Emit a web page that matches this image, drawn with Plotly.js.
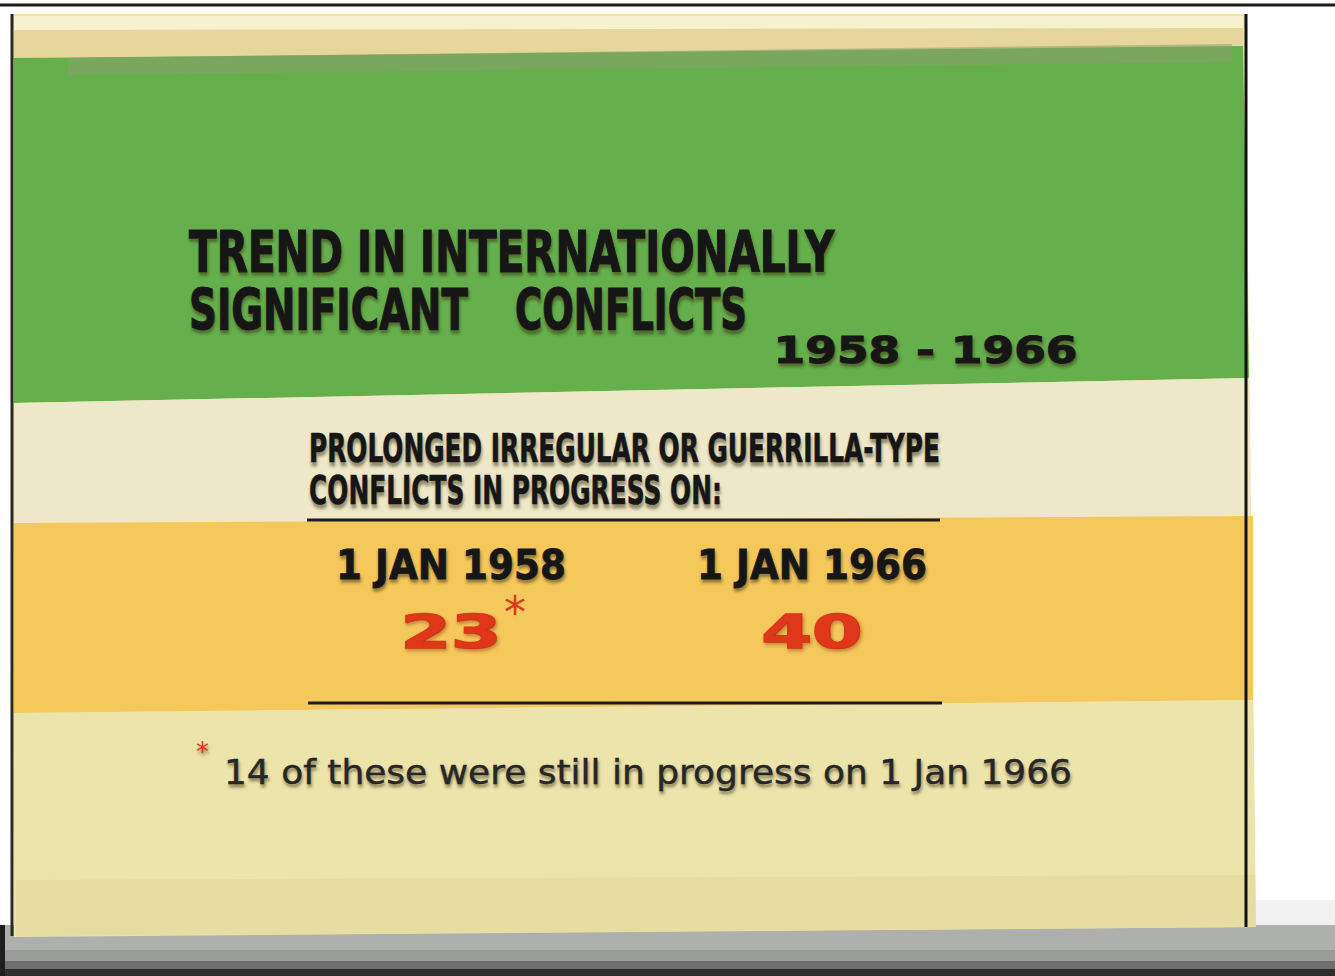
<!DOCTYPE html>
<html>
<head>
<meta charset="utf-8">
<script src="https://cdn.plot.ly/plotly-3.0.1.min.js"></script>
<style>
  html, body { margin: 0; padding: 0; background: #ffffff; }
  #chart { width: 1335px; height: 976px; }
</style>
</head>
<body>
<div id="chart"></div>
<script>
// ---------- DATA ----------
const titleLine1 = "TREND IN INTERNATIONALLY";
const titleLine2a = "SIGNIFICANT";
const titleLine2b = "CONFLICTS";
const periodLabel = "1958 - 1966";
const subtitleLines = ["PROLONGED IRREGULAR OR GUERRILLA-TYPE", "CONFLICTS IN PROGRESS ON:"];
const dateLabels = ["1 JAN 1958", "1 JAN 1966"];
const conflictCounts = [23, 40];
const countMarks = ["*", ""];
const stillInProgress = 14;
const footnoteText = stillInProgress + " of these were still in progress on 1 Jan 1966";

// ---------- HELPERS (pixel -> paper) ----------
const W = 1335, H = 976;
const px = x => x / W;
const py = y => 1 - y / H;
function rect(x0, y0, x1, y1, fill) {
  return {type: 'rect', xref: 'paper', yref: 'paper',
    x0: px(x0), x1: px(x1), y0: py(y1), y1: py(y0),
    fillcolor: fill, line: {width: 0}, layer: 'below'};
}
function poly(pts, fill) {
  const d = pts.map((p, i) => (i ? 'L ' : 'M ') + px(p[0]).toFixed(5) + ' ' + py(p[1]).toFixed(5)).join(' ') + ' Z';
  return {type: 'path', xref: 'paper', yref: 'paper', path: d,
    fillcolor: fill, line: {width: 0}, layer: 'below'};
}
function seg(x0, y0, x1, y1, color, w) {
  return {type: 'line', xref: 'paper', yref: 'paper', x0: px(x0), x1: px(x1),
    y0: py(y0), y1: py(y1), line: {color: color, width: w}, layer: 'above'};
}

const shapes = [
  seg(0, 5, 1335, 5, '#1a1a1a', 3),
  // shadow under the board
  rect(1256, 900, 1335, 930, '#f1f1f1'),
  rect(0, 925, 1335, 976, '#aeb0ae'),
  rect(0, 950, 1335, 976, '#9a9c9a'),
  rect(0, 961, 1335, 976, '#6e6e6e'),
  rect(0, 969, 1335, 976, '#2e2e2e'),
  rect(0, 925, 5, 976, '#1e1e1e'),
  // board base
  poly([[12, 14], [1245, 14], [1256, 927], [14, 937]], '#ece3ab'),
  poly([[14, 16], [1243, 16], [1243, 30], [14, 30]], '#f6f1cf'),
  poly([[14, 30], [1243, 28], [1243, 46], [14, 58]], '#e6d69b'),
  // green panel
  poly([[14, 58], [1243, 46], [1249, 378], [14, 403]], '#65b04c'),
  poly([[68, 58], [1232, 44], [1232, 62], [68, 75]], 'rgba(140,160,110,0.55)'),
  // cream band
  poly([[14, 403], [1249, 378], [1251, 522], [14, 527]], '#eee8c8'),
  // yellow band
  poly([[14, 523], [1253, 516], [1253, 700], [14, 713]], '#f5c85c'),
  // lower pale band
  poly([[14, 713], [1253, 700], [1256, 927], [16, 936]], '#ede4ac'),
  poly([[16, 880], [1255, 875], [1256, 927], [16, 936]], 'rgba(220,205,140,0.35)'),
  // board edges
  seg(1246, 14, 1246, 927, '#111111', 3),
  seg(12, 14, 12, 936, '#2a2a20', 3),
  // rules above and below the figures
  seg(307, 520, 940, 520, '#1c1c1c', 3),
  seg(308, 703, 942, 703, '#1c1c1c', 3)
];

const ink = '#161616';
const red = '#e0361a';
const shadow = '1px 3px 3px rgba(60,50,20,0.5)';
const sans = '"DejaVu Sans", sans-serif';

// target widths (px) and stroke used to condense / embolden the lettering like the original type
const fit = [];
function note(text, x, y, size, color, weight, anchor, width, stroke) {
  fit.push({anchor: anchor || 'left', width: width, stroke: stroke || 0, color: color});
  return {text: text, xref: 'paper', yref: 'paper', x: px(x), y: py(y),
    xanchor: anchor || 'left', yanchor: 'middle', showarrow: false,
    font: {family: sans, size: size, color: color, weight: weight, shadow: shadow}};
}

const annotations = [
  note(titleLine1, 187, 252, 57, ink, 700, 'left', 646, 1.2),
  note(titleLine2a, 187, 310, 57, ink, 700, 'left', 279, 1.2),
  note(titleLine2b, 513, 310, 57, ink, 700, 'left', 232, 1.2),
  note(periodLabel, 925, 350, 37, ink, 700, 'center', 304, 1),
  note(subtitleLines[0], 307, 449, 39, ink, 700, 'left', 631, 0.6),
  note(subtitleLines[1], 307, 491, 39, ink, 700, 'left', 413, 0.6),
  note('*', 203, 752, 26, red, 400, 'center', null, 0),
  note(footnoteText, 222, 772, 34, '#262626', 400, 'left', 848, 0.4)
];
// asterisk marks attached to the counts
countMarks.forEach((m, i) => {
  if (!m) return;
  fit.push({anchor: 'center', width: null, stroke: 0});
  annotations.push({text: m, xref: 'x', yref: 'y', x: dateLabels[i], y: 612,
    xshift: 64, xanchor: 'center', yanchor: 'middle', showarrow: false,
    font: {family: sans, size: 44, color: red, weight: 400}});
});

// ---------- TRACES ----------
const dateTrace = {
  type: 'scatter', mode: 'text', x: dateLabels, y: dateLabels.map(() => 569),
  text: dateLabels, textposition: 'middle center', hoverinfo: 'skip',
  textfont: {family: sans, size: 41, color: ink, weight: 700, shadow: shadow}
};
const countTrace = {
  type: 'scatter', mode: 'text', x: dateLabels, y: dateLabels.map(() => 636),
  text: conflictCounts.map(String), textposition: 'middle center', hoverinfo: 'skip',
  textfont: {family: sans, size: 47, color: red, weight: 700, shadow: '1px 3px 4px rgba(150,60,20,0.45)'}
};
const traceFit = [{width: 230, stroke: 0.8, color: ink}, {width: 101, stroke: 1.6, color: red}];

// category axis placed so the two dates land at ~451px and ~812px
const unit = 361, firstPx = 451;
const r0 = -firstPx / unit, r1 = r0 + W / unit;

const layout = {
  width: W, height: H,
  margin: {l: 0, r: 0, t: 0, b: 0},
  paper_bgcolor: '#ffffff', plot_bgcolor: 'rgba(0,0,0,0)',
  showlegend: false,
  xaxis: {type: 'category', range: [r0, r1], visible: false, fixedrange: true},
  yaxis: {range: [H, 0], visible: false, fixedrange: true},
  shapes: shapes,
  annotations: annotations
};

function squeeze(el, f) {
  if (!el || !f) return;
  if (f.stroke) {
    el.style.stroke = f.color;
    el.style.strokeWidth = f.stroke + 'px';
    el.style.paintOrder = 'stroke fill';
  }
  if (!f.width) return;
  const bb = el.getBBox();
  if (!bb.width) return;
  const s = f.width / bb.width;
  const cx = f.anchor === 'left' ? bb.x : bb.x + bb.width / 2;
  const prev = el.getAttribute('transform') || '';
  el.setAttribute('transform', prev + ` translate(${cx},0) scale(${s},1) translate(${-cx},0)`);
}

Plotly.newPlot('chart', [dateTrace, countTrace], layout, {displayModeBar: false, staticPlot: true})
  .then(gd => {
    gd.querySelectorAll('.annotation').forEach(g => {
      const i = +g.getAttribute('data-index');
      squeeze(g.querySelector('text.annotation-text'), fit[i]);
    });
    gd.querySelectorAll('.scatterlayer .trace').forEach((tr, k) => {
      tr.querySelectorAll('.textpoint text').forEach(t => squeeze(t, Object.assign({anchor: 'center'}, traceFit[k])));
    });
  });
</script>
</body>
</html>
